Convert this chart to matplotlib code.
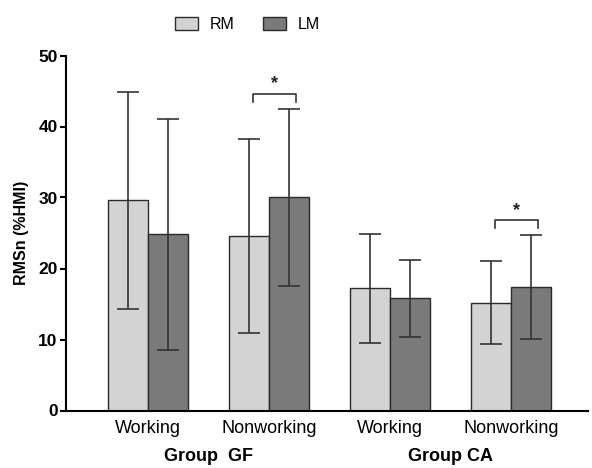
import numpy as np
import matplotlib.pyplot as plt

plt.rcParams['font.family'] = ['Liberation Sans', 'DejaVu Sans']

conditions = ['Working', 'Nonworking', 'Working', 'Nonworking']
groups = ['Group  GF', 'Group CA']
rm_mean = [29.6, 24.6, 17.2, 15.2]
rm_sd = [15.3, 13.7, 7.7, 5.8]
lm_mean = [24.8, 30.0, 15.8, 17.4]
lm_sd = [16.3, 12.4, 5.4, 7.3]
# significance brackets: (pair index, bracket height)
sig_pairs = [(1, 44.6), (3, 26.8)]

fig = plt.figure(figsize=(5.92, 4.68), dpi=100)
ax = fig.add_axes([66 / 592, 1 - 410.5 / 468, 522 / 592, 355 / 468])

x = np.arange(len(conditions))
w = 0.33
ekw = dict(ecolor='#333333', elinewidth=1.2, capsize=8, capthick=1.2, fmt='none')

ax.bar(x - w / 2, rm_mean, w, color='#d3d3d3', edgecolor='#2a2a2a', linewidth=1.0, label='RM', zorder=2)
ax.bar(x + w / 2, lm_mean, w, color='#7a7a7a', edgecolor='#2a2a2a', linewidth=1.0, label='LM', zorder=2)
ax.errorbar(x - w / 2, rm_mean, yerr=rm_sd, zorder=3, **ekw)
ax.errorbar(x + w / 2, lm_mean, yerr=lm_sd, zorder=3, **ekw)

for i, h in sig_pairs:
    x0, x1 = i - w / 2 + 0.03, i + w / 2 + 0.06
    ax.plot([x0, x0, x1, x1], [h - 1.1, h, h, h - 1.1], color='#333333', lw=1.2, zorder=3)
    ax.text((x0 + x1) / 2, h + 0.2, '*', ha='center', va='bottom', fontsize=13,
            fontweight='bold', color='#222222')

ax.set_xlim(-0.678, 3.636)
ax.set_ylim(0, 50)
ax.set_yticks([0, 10, 20, 30, 40, 50])
ax.set_xticks(x)
ax.set_xticklabels(conditions, fontsize=13)
ax.tick_params(axis='x', length=0, pad=7)
ax.tick_params(axis='y', length=4, width=1.5, pad=2)
for lab in ax.get_yticklabels():
    lab.set_fontweight('bold')
    lab.set_fontsize(12.5)
for s in ['top', 'right']:
    ax.spines[s].set_visible(False)
for s in ['left', 'bottom']:
    ax.spines[s].set_linewidth(1.5)
ax.set_ylabel('RMSn (%HMI)', fontsize=11.5, fontweight='bold', labelpad=7)

for gi, g in enumerate(groups):
    ax.text(gi * 2 + 0.5, -0.13, g, transform=ax.get_xaxis_transform(),
            ha='center', va='center', fontsize=13, fontweight='bold')

fig.legend(loc='upper center', bbox_to_anchor=(0.418, 0.995), ncol=2, frameon=False,
           fontsize=11.5, handlelength=1.45, handleheight=0.85, handletextpad=0.7,
           columnspacing=1.8)

fig.savefig('out.png', dpi=100)
